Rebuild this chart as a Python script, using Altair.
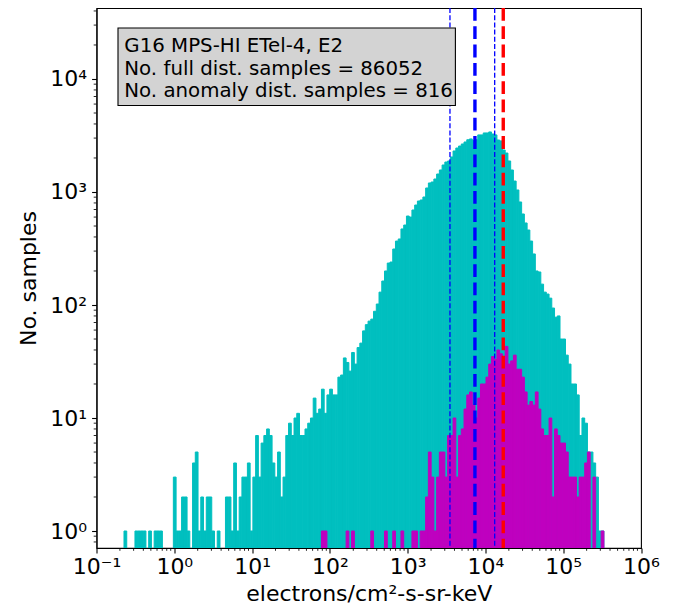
import altair as alt
import numpy as np
import pandas as pd

# ---------------- data ----------------
# log10 of the first and last histogram bin edges, number of log-spaced bins
LOG_EDGE_MIN = -0.6465
LOG_EDGE_MAX = 5.5230
N_BINS = 175

# full distribution, counts per bin (bins 0..174)
FULL_COUNTS = [
    # 0-47
    1, 0, 0, 0, 1, 1, 1, 1, 0, 1, 0, 1, 1, 1, 0, 0, 0, 0, 3, 1, 1, 2, 2, 1,
    0, 4, 5, 1, 2, 1, 2, 2, 1, 0, 1, 0, 0, 2, 2, 1, 4, 1, 2, 3, 3, 4, 1, 3,
    # 48-89
    7, 3, 6, 7, 8, 7, 4, 3, 5, 2, 3, 7, 9, 7, 10, 11, 7, 7, 8, 9, 10,
    15, 11, 12, 18, 11, 16, 18, 16, 16, 23, 24, 34, 31, 26, 38, 30, 42, 46, 59, 67, 72,
    # 90-121
    75, 88, 102, 130, 163, 200, 235, 240, 313, 368, 384, 471, 510, 613, 600, 693,
    767, 832, 850, 903, 1085, 1202, 1226, 1303, 1443, 1566, 1734, 1842, 1881, 2041, 2306, 2450,
    # 122-137
    2552, 2660, 2770, 2900, 2950, 2850, 2900, 3200, 3200, 3330, 3330, 3400, 3260, 3200, 2885, 2830,
    # 138-174
    2353, 2212, 1881, 1566, 1250, 1042, 816, 639, 532, 461, 368, 283, 200, 196, 153, 130,
    125, 115, 94, 78, 80, 50, 50, 36, 30, 20, 20, 16, 7, 10, 9, 5, 5, 4, 3, 1, 1,
]

# anomaly distribution, counts per bin starting at bin ANOMALY_FIRST_BIN
ANOMALY_FIRST_BIN = 72
ANOMALY_COUNTS = [
    # 72-89
    1, 1, 0, 0, 0, 0, 0, 0, 0, 1, 0, 1, 0, 0, 0, 0, 0, 0,
    # 90-109
    1, 0, 0, 0, 0, 1, 0, 0, 1, 0, 0, 1, 0, 0, 0, 1, 1, 0, 1, 1,
    # 110-129
    2, 5, 3, 1, 3, 5, 5, 3, 7, 7, 10, 3, 7, 8, 12, 16, 17, 13, 10, 15,
    # 130-149
    20, 20, 23, 30, 35, 33, 40, 37, 33, 43, 30, 32, 36, 27, 27, 23, 17, 13, 14, 13,
    # 150-174
    17, 12, 8, 7, 7, 10, 2, 8, 7, 6, 6, 5, 3, 3, 3, 2, 3, 3, 4, 5, 0, 3, 0, 0, 1,
]

# vertical reference lines (electrons/cm2-s-sr-keV)
THIN_BLUE_LINES = [3500, 13150]
THICK_BLUE_LINE = [7330]
RED_LINE = [16950]

INFO_LINES = [
    "G16 MPS-HI ETel-4, E2",
    "No. full dist. samples = 86052",
    "No. anomaly dist. samples = 816",
]

X_TITLE = "electrons/cm²-s-sr-keV"
Y_TITLE = "No. samples"

X_TICKS = [0.1, 1, 10, 100, 1e3, 1e4, 1e5, 1e6]
X_TICK_LABELS = ["10⁻¹", "10⁰", "10¹", "10²", "10³", "10⁴", "10⁵", "10⁶"]
Y_TICKS = [1, 10, 100, 1e3, 1e4]
Y_TICK_LABELS = ["10⁰", "10¹", "10²", "10³", "10⁴"]
X_DOMAIN = [0.1, 1e6]
Y_DOMAIN = [0.7073, 42490]

# ---------------- build tables ----------------
edges = 10 ** np.linspace(LOG_EDGE_MIN, LOG_EDGE_MAX, N_BINS + 1)
full = pd.DataFrame({"lo": edges[:-1], "hi": edges[1:], "count": FULL_COUNTS})
full = full[full["count"] > 0]
a_idx = np.arange(ANOMALY_FIRST_BIN, ANOMALY_FIRST_BIN + len(ANOMALY_COUNTS))
anom = pd.DataFrame({"lo": edges[a_idx], "hi": edges[a_idx + 1], "count": ANOMALY_COUNTS})
anom = anom[anom["count"] > 0]

x_minor = [k * 10.0 ** d for d in range(-1, 6) for k in range(2, 10)]
y_minor = [v for v in [k * 10.0 ** d for d in range(-1, 5) for k in range(2, 10)]
           if Y_DOMAIN[0] <= v <= Y_DOMAIN[1]]

W = 544.5
H = 540
FONT = "DejaVu Sans"
FS = 22
FS_BOX = 19.8


def label_expr(ticks, labels):
    expr = "'" + labels[-1] + "'"
    for t, lab in reversed(list(zip(ticks[:-1], labels[:-1]))):
        thr = t * 10 ** 0.5
        expr = f"datum.value < {thr} ? '{lab}' : ({expr})"
    return expr


xscale = alt.Scale(type="log", domain=X_DOMAIN, nice=False)
yscale = alt.Scale(type="log", domain=Y_DOMAIN, nice=False)

xaxis = alt.Axis(
    values=X_TICKS, labelExpr=label_expr(X_TICKS, X_TICK_LABELS), title=X_TITLE,
    grid=False, domain=True, domainColor="black", domainWidth=1.1,
    tickColor="black", tickWidth=1.1, tickSize=4.9, labelPadding=4,
    labelFont=FONT, labelFontSize=FS, labelColor="black",
    titleFont=FONT, titleFontSize=FS, titleFontWeight="normal", titleColor="black",
    titleY=52.5, titleBaseline="alphabetic", titleAlign="center", titleX=W / 2,
    zindex=1, labelFlush=False, labelOverlap=False,
)
yaxis = alt.Axis(
    values=Y_TICKS, labelExpr=label_expr(Y_TICKS, Y_TICK_LABELS), title=Y_TITLE,
    grid=False, domain=True, domainColor="black", domainWidth=1.1,
    tickColor="black", tickWidth=1.1, tickSize=4.9, labelPadding=4.9,
    labelFont=FONT, labelFontSize=FS, labelColor="black",
    titleFont=FONT, titleFontSize=FS, titleFontWeight="normal", titleColor="black",
    titleX=-68.5, titleY=H / 2, titleAngle=270, titleAlign="center", titleBaseline="middle",
    zindex=1, labelFlush=False, labelOverlap=False,
)


def bars(df, color):
    return alt.Chart(df).mark_rect(color=color, stroke=color, strokeWidth=1.0).encode(
        x=alt.X("lo:Q", scale=xscale, axis=xaxis),
        x2="hi:Q",
        y=alt.Y("count:Q", scale=yscale, axis=yaxis),
        y2=alt.value(H),
    )


cyan = bars(full, "#00BFBF")
magenta = bars(anom, "#BF00BF")


def vlines(values, color, width, dash):
    return alt.Chart(pd.DataFrame({"v": values})).mark_rule(
        color=color, strokeWidth=width, strokeDash=dash
    ).encode(x=alt.X("v:Q", scale=xscale, axis=xaxis), y=alt.value(0), y2=alt.value(H))


thin = vlines(THIN_BLUE_LINES, "#0000FF", 1.3, [5, 2.2])
thick = vlines(THICK_BLUE_LINE, "#0000FF", 3.4, [12.8, 5.5])
red = vlines(RED_LINE, "#FF0000", 3.4, [12.8, 5.5])

xminor = alt.Chart(pd.DataFrame({"v": x_minor})).mark_rule(color="black", strokeWidth=0.85).encode(
    x=alt.X("v:Q", scale=xscale, axis=xaxis), y=alt.value(H), y2=alt.value(H + 2.8)
)
yminor = alt.Chart(pd.DataFrame({"v": y_minor})).mark_rule(color="black", strokeWidth=0.85).encode(
    y=alt.Y("v:Q", scale=yscale, axis=yaxis), x=alt.value(0), x2=alt.value(-2.8)
)

one = pd.DataFrame({"k": [0]})
box = alt.Chart(one).mark_rect(fill="#d3d3d3", stroke="black", strokeWidth=1.1).encode(
    x=alt.value(21.5), x2=alt.value(358.9), y=alt.value(20), y2=alt.value(97.5)
)
texts = []
for i, line in enumerate(INFO_LINES):
    texts.append(
        alt.Chart(one).mark_text(
            text=line, font=FONT, fontSize=FS_BOX, align="left", baseline="alphabetic", color="black"
        ).encode(x=alt.value(27.8), y=alt.value(44 + 22.5 * i))
    )

chart = alt.layer(cyan, magenta, thin, thick, red, xminor, yminor, box, *texts).properties(
    width=W, height=H,
    autosize=alt.AutoSizeParams(type="none"),
    padding={"left": 88.5, "top": 0, "right": 25, "bottom": 58},
    background="white",
).configure_view(stroke="black", strokeWidth=1.1)

chart.save("out.html", embed_options={"renderer": "svg", "actions": False})
